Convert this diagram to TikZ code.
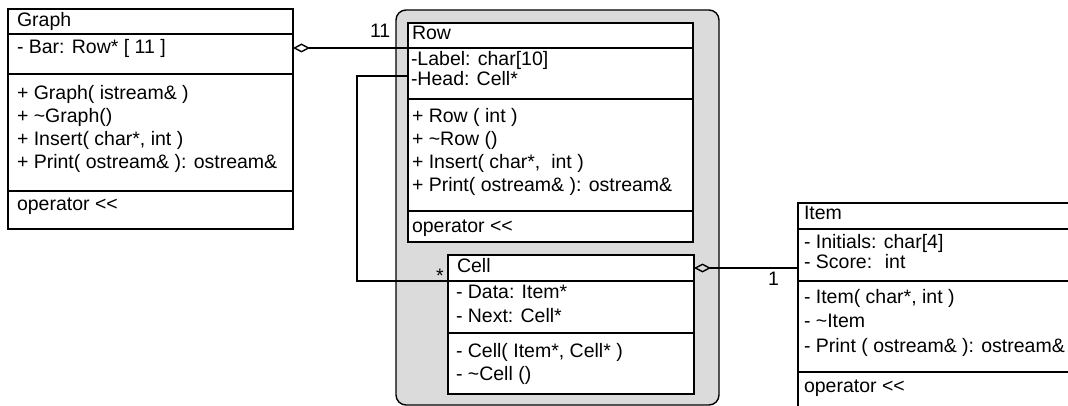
\documentclass[tikz,border=0pt]{standalone}
\usepackage{fontspec}
\newfontfamily\umlfont{Liberation Sans}
\usetikzlibrary{arrows.meta}

\begin{document}
\begin{tikzpicture}[x = 1pt, y = -1pt, line width = 1.4pt,
                    every node/.style = {inner sep = 0pt, outer sep = 0pt,
                                         font = \umlfont\fontsize{19.5}{23}\selectfont},
                    part/.style = {shape = rectangle, draw, fill = white, anchor = north west},
                    txt/.style = {anchor = base west},
                    package/.style = {shape = rectangle, draw, fill = black!14,
                                      rounded corners = 10pt, anchor = north west},
                    aggregation/.style = {-{Diamond[open, length = 17pt, width = 9pt]}}]
      \useasboundingbox (0, 0) rectangle (1068, 406);
      \clip (0, 0) rectangle (1068, 406);

      \node [package, minimum width = 323pt, minimum height = 395pt] (pkg) at (396, 10) {};

      % Graph
      \node [part, minimum width = 285pt, minimum height = 25pt]  (gtitle)  at (8, 9) {};
      \node [part, minimum width = 285pt, minimum height = 40pt]  (gattr)   at (8, 34) {};
      \node [part, minimum width = 285pt, minimum height = 117pt] (gops)    at (8, 74) {};
      \node [part, minimum width = 285pt, minimum height = 38pt]  (gfriend) at (8, 191) {};
      \node [txt] (graph)  at (17, 27)  {Graph};
      \node [txt] (gbar)   at (17, 54)  {- Bar: Row* [ 11 ]};
      \node [txt] (gop1)   at (17, 100) {+ Graph( istream\& )};
      \node [txt] (gop2)   at (17, 123) {+ \textasciitilde Graph()};
      \node [txt] (gop3)   at (17, 146) {+ Insert( char*, int )};
      \node [txt] (gop4)   at (17, 169) {+ Print( ostream\& ): ostream\&};
      \node [txt] (gfr)    at (17, 211) {operator <<};

      % Row
      \node [part, minimum width = 285pt, minimum height = 25pt]  (rtitle)  at (408, 23) {};
      \node [part, minimum width = 285pt, minimum height = 51pt]  (rattr)   at (408, 48) {};
      \node [part, minimum width = 285pt, minimum height = 112pt] (rops)    at (408, 99) {};
      \node [part, minimum width = 285pt, minimum height = 31pt]  (rfriend) at (408, 211) {};
      \node [txt] (row)    at (412, 40)  {Row};
      \node [txt] (rlabel) at (411, 66)  {-Label: char[10]};
      \node [txt] (rhead)  at (411, 86)  {-Head: Cell*};
      \node [txt] (rop1)   at (412, 123) {+ Row ( int )};
      \node [txt] (rop2)   at (412, 146) {+ \textasciitilde Row ()};
      \node [txt] (rop3)   at (412, 169) {+ Insert( char*, ~int )};
      \node [txt] (rop4)   at (412, 192) {+ Print( ostream\& ): ostream\&};
      \node [txt] (rfr)    at (412, 233) {operator <<};

      % Cell
      \node [part, minimum width = 246pt, minimum height = 26pt] (ctitle) at (448, 255) {};
      \node [part, minimum width = 246pt, minimum height = 52pt] (cattr)  at (448, 281) {};
      \node [part, minimum width = 246pt, minimum height = 61pt] (cops)   at (448, 333) {};
      \node [txt] (cell)   at (457, 272) {Cell};
      \node [txt] (cdata)  at (456, 298) {- Data: Item*};
      \node [txt] (cnext)  at (456, 322) {- Next: Cell*};
      \node [txt] (cop1)   at (456, 357) {- Cell( Item*, Cell* )};
      \node [txt] (cop2)   at (456, 380) {- \textasciitilde Cell ()};

      % Item
      \node [part, minimum width = 290pt, minimum height = 26pt] (ititle)  at (798, 203) {};
      \node [part, minimum width = 290pt, minimum height = 52pt] (iattr)   at (798, 229) {};
      \node [part, minimum width = 290pt, minimum height = 91pt] (iops)    at (798, 281) {};
      \node [part, minimum width = 290pt, minimum height = 50pt] (ifriend) at (798, 372) {};
      \node [txt] (item)   at (804, 220) {Item};
      \node [txt] (iinit)  at (804, 248) {- Initials: char[4]};
      \node [txt] (iscore) at (804, 269) {- Score: ~int};
      \node [txt] (iop1)   at (804, 303) {- Item( char*, int )};
      \node [txt] (iop2)   at (804, 327) {- \textasciitilde Item};
      \node [txt] (iop3)   at (804, 352) {- Print ( ostream\& ): ostream\&};
      \node [txt] (ifr)    at (804, 392) {operator <<};

      % associations
      \coordinate (headbend) at (357, 76);
      \draw [aggregation] (rtitle.south west) -- (gattr.east |- rtitle.south west);
      \draw (rattr.west |- headbend) -- (headbend) |- (ctitle.south west);
      \draw [aggregation] (ctitle.east -| iattr.west) -- (ctitle.east);

      \node [txt] (mbar)  at (370, 38)  {11};
      \node [txt] (mhead) at (436, 282) {*};
      \node [txt] (mdata) at (768, 285) {1};
    \end{tikzpicture}
\end{document}
